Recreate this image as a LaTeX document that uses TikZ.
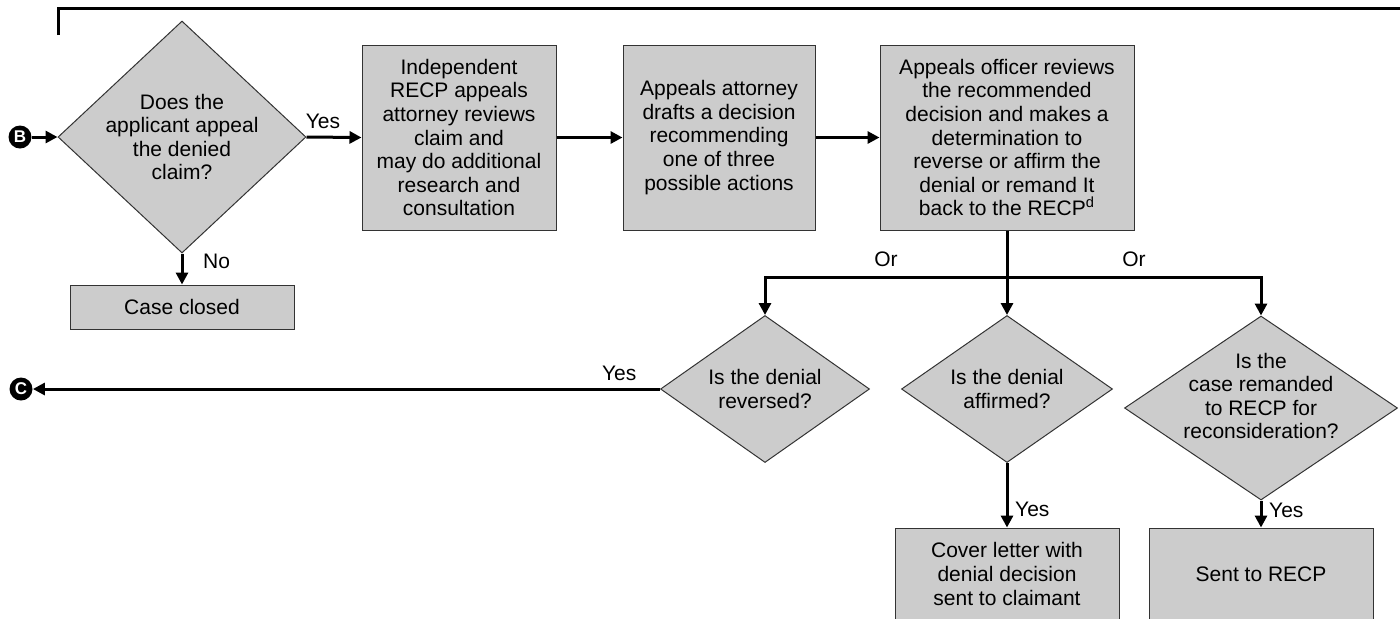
\documentclass[tikz,border=0pt]{standalone}
\usepackage{fontspec}
\setmainfont{Liberation Sans}
\usetikzlibrary{shapes.geometric, arrows.meta, positioning}

\begin{document}
\begin{tikzpicture}[
            x=0.5pt, y=-0.5pt,
            every node/.style={font=\fontsize{10.5}{11.8}\selectfont},
            process/.style={rectangle, draw=black!80, line width=0.5pt, fill=black!20, align=center, inner sep=2pt},
            decision/.style={diamond, draw=black!80, line width=0.5pt, fill=black!20, align=center, inner sep=-4pt},
            connector/.style={circle, fill=black, text=white, inner sep=0pt, minimum size=11.5pt, font=\fontsize{8.5}{8.5}\selectfont\bfseries},
            flow/.style={-{Triangle[length=6pt,width=6pt]}, line width=1.5pt},
            rule/.style={line width=1.5pt}
        ]

            \useasboundingbox (0,0) rectangle (1400,618);
            \clip (0,0) rectangle (1400,618);

% Top rule
            \coordinate (ruleL) at (58,35);
            \coordinate (ruleR) at (1400,8);
            \draw[rule] (ruleL) |- (ruleR);

% Appeal row
            \node[connector] (conB) at (20,137) {B};
            \node[decision, shape aspect=1.07, minimum width=124pt, minimum height=116pt] (appeal) at (182,137) {Does the\\applicant appeal\\the denied\\claim?};
            \node[process, minimum width=97pt, minimum height=92.5pt] (review) at (459,137.5) {Independent\\RECP appeals\\attorney reviews\\claim and\\may do additional\\research and\\consultation};
            \node[process, minimum width=96pt, minimum height=92.5pt] (draft) at (719,137.5) {Appeals attorney\\drafts a decision\\recommending\\one of three\\possible actions};
            \node[process, minimum width=127pt, minimum height=92.5pt] (officer) at (1007,137.5) {Appeals officer reviews\\the recommended\\decision and makes a\\determination to\\reverse or affirm the\\denial or remand It\\back to the RECP\textsuperscript{d}};
            \node[process, minimum width=112pt, minimum height=22pt] (closed) at (182,307) {Case closed};

% Outcomes
            \node[decision, shape aspect=1.42, minimum width=104.5pt, minimum height=73.5pt] (reversed) at (765,389) {Is the denial\\reversed?};
            \node[decision, shape aspect=1.42, minimum width=105.5pt, minimum height=73.5pt] (affirmed) at (1007,389) {Is the denial\\affirmed?};
            \node[decision, shape aspect=1.48, minimum width=136.5pt, minimum height=92pt] (remanded) at (1261,408) {};
            \node[align=center] (remandedText) at (1261,396) {Is the\\case remanded\\to RECP for\\reconsideration?};
            \node[process, minimum width=112pt, minimum height=46pt] (letter) at (1007,574) {Cover letter with\\denial decision\\sent to claimant};
            \node[process, minimum width=112pt, minimum height=46pt] (sent) at (1261,574) {Sent to RECP};
            \node[connector] (conC) at (21,389) {C};

% Connectors
            \draw[flow] (conB) -- (appeal.west);
            \draw[flow] (appeal.east) -- node[above, pos=0.3] {Yes} (review.west);
            \draw[flow] (appeal.south) -- node[right=6.5pt, pos=0.24] {No} (closed.north);
            \draw[flow] (review) -- (draft);
            \draw[flow] (draft) -- (officer);

            \coordinate (split) at (1007,277);
            \draw[flow] (officer.south) -- (affirmed.north);
            \draw[flow] (split) -| node[pos=0.25, above=1pt] {Or} (reversed.north);
            \draw[flow] (split) -| node[pos=0.25, above=1pt] {Or} (remanded.north);

            \draw[flow] (reversed.west) -- node[above, pos=0.065] {Yes} (conC);
            \draw[flow] (affirmed.south) -- node[right, pos=0.72] {Yes} (letter.north);
            \draw[flow] (remanded.south) -- node[right, pos=0.36] {Yes} (sent.north);

        \end{tikzpicture}
\end{document}
